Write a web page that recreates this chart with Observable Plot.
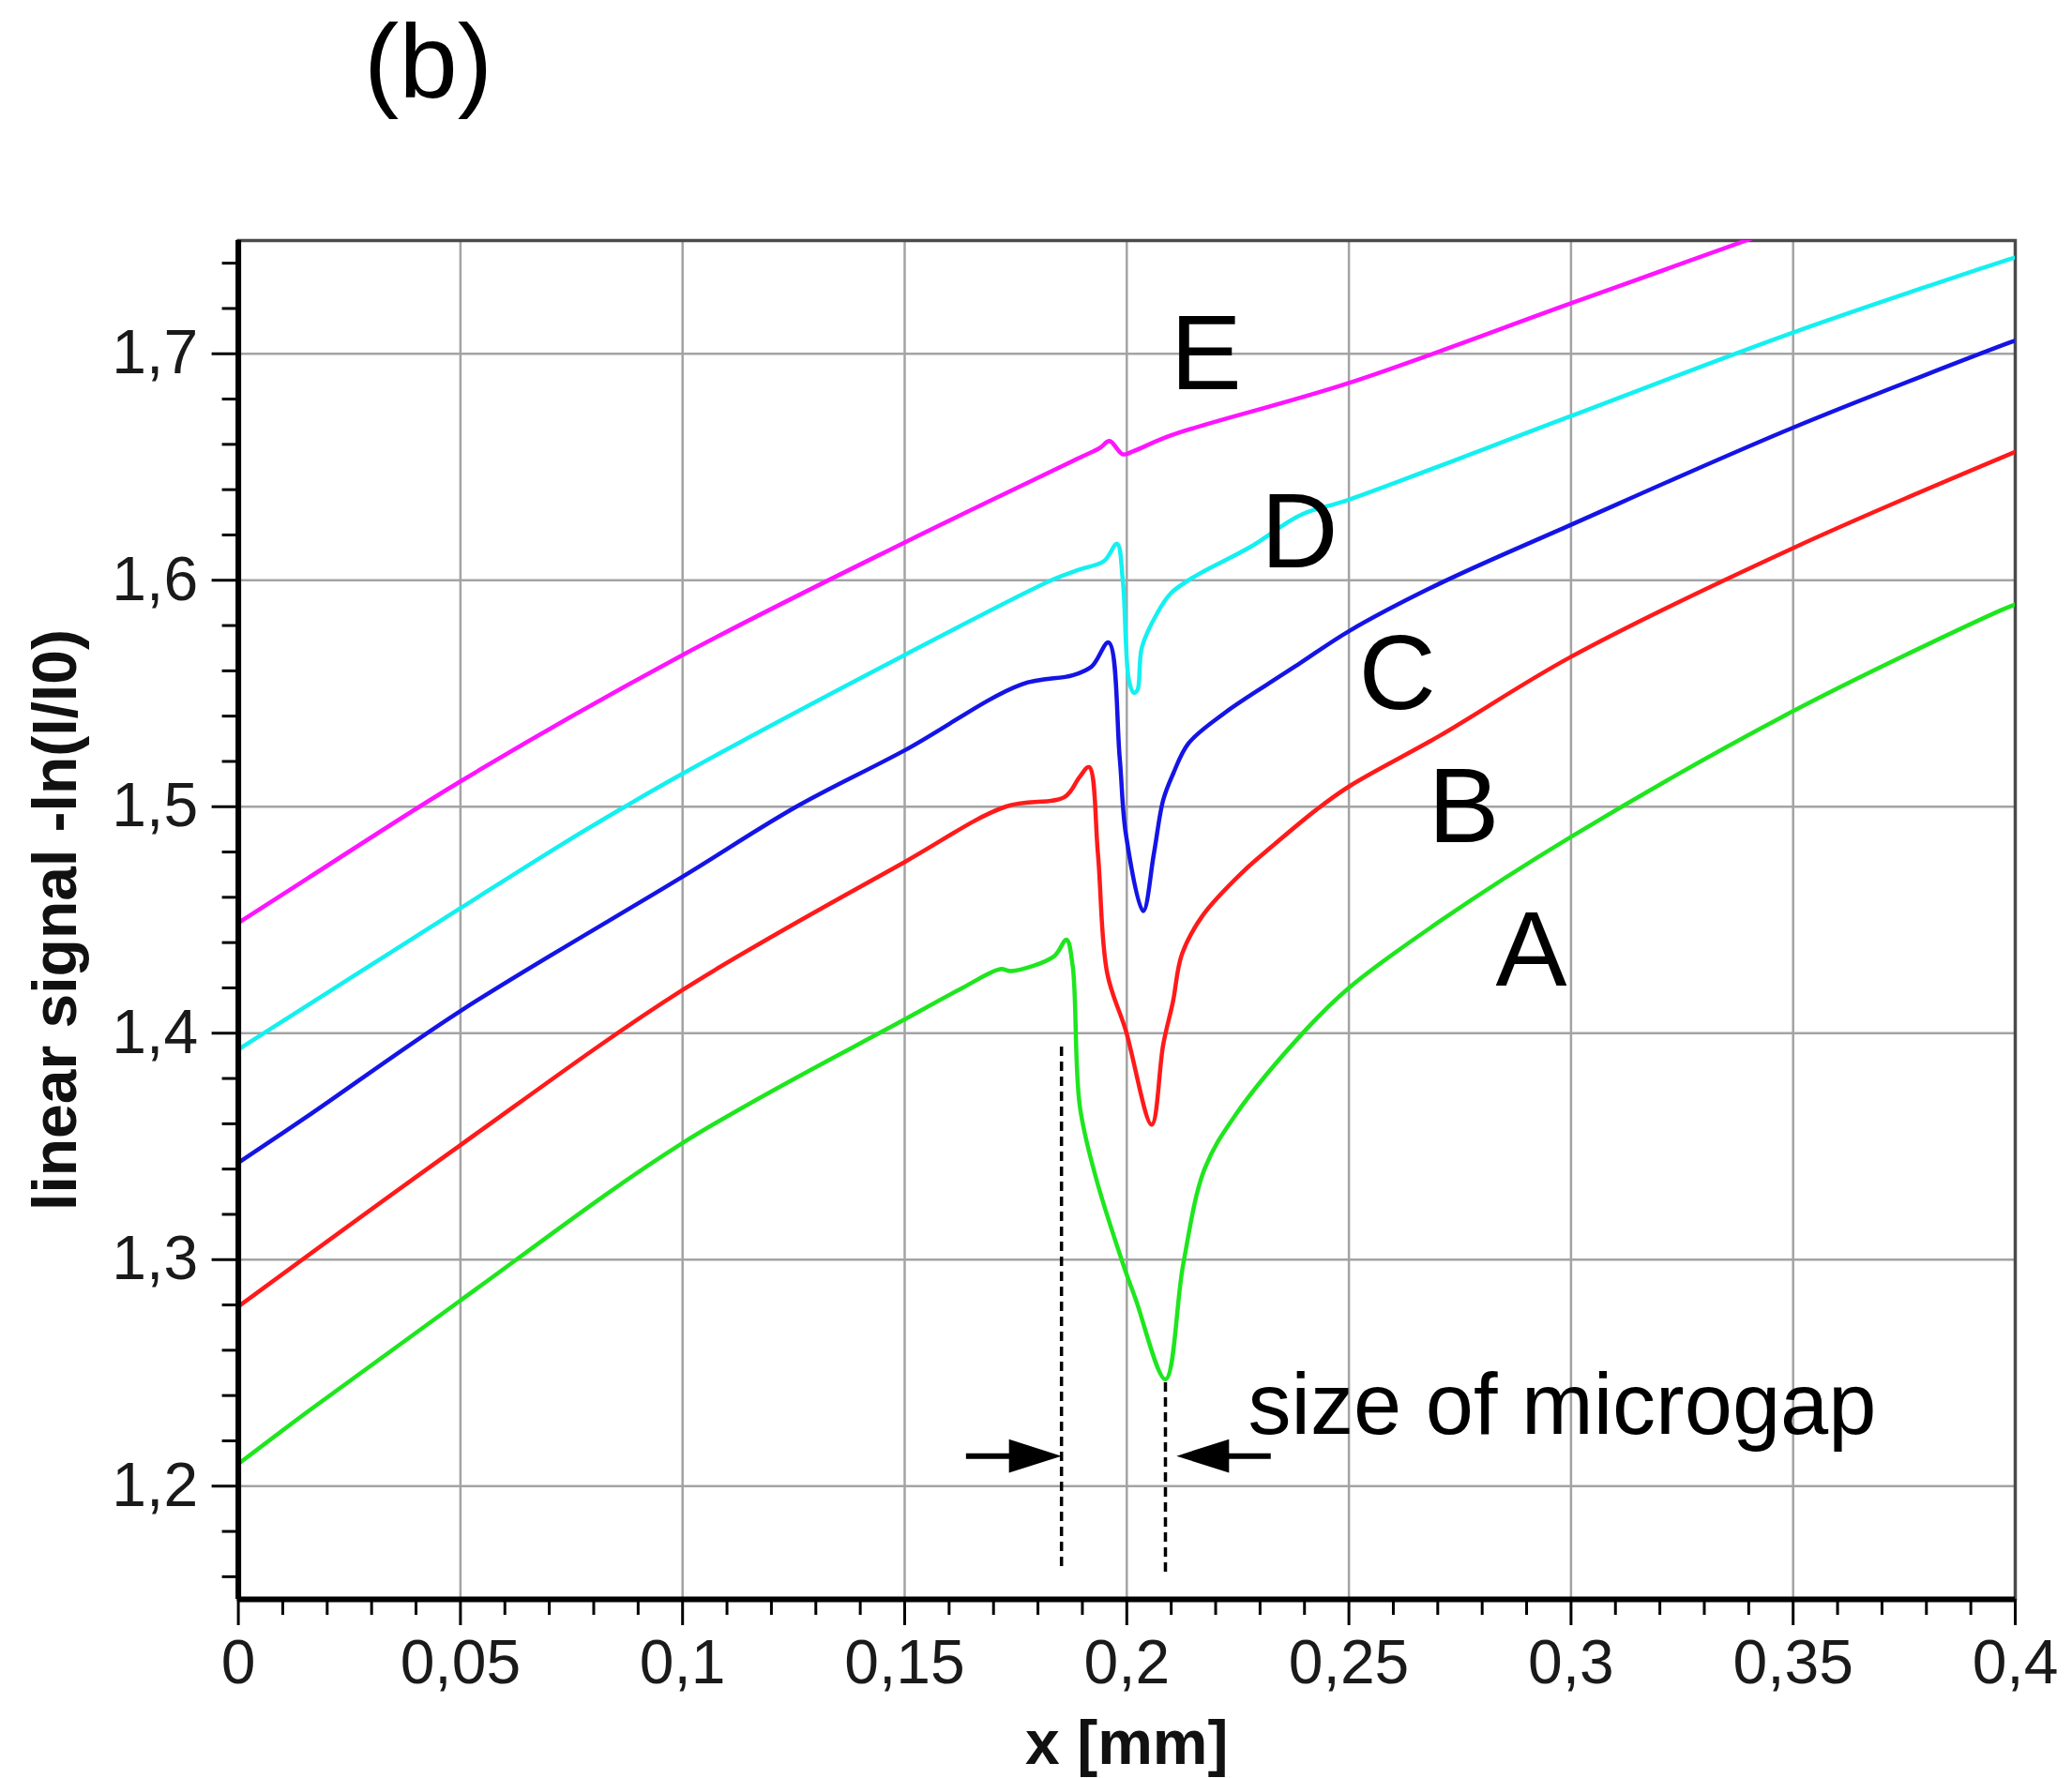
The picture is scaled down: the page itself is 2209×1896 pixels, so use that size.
<!DOCTYPE html>
<html>
<head>
<meta charset="utf-8">
<script src="https://cdn.jsdelivr.net/npm/d3@7"></script>
<script src="https://cdn.jsdelivr.net/npm/@observablehq/plot@0.6"></script>
<style>
  html, body { margin: 0; padding: 0; background: #ffffff; }
  svg { display: block; }
</style>
</head>
<body>
<div id="chart"></div>
<script>
// ---------- data ----------
const seriesNames = ["A", "B", "C", "D", "E"];
const seriesColors = ["#1ee61e", "#ff1a1a", "#1414e6", "#14f0f0", "#ff14ff"];

const xA = [0, 0.0157, 0.05, 0.1, 0.15, 0.163, 0.1715, 0.174, 0.1836, 0.1864, 0.1878, 0.1894, 0.1928, 0.199, 0.202, 0.2087, 0.2127, 0.2175, 0.2245, 0.2403, 0.25, 0.2706, 0.3, 0.35, 0.3967, 0.4];
const yA = [1.2098, 1.233, 1.282, 1.3515, 1.4061, 1.42, 1.4283, 1.4274, 1.4339, 1.4413, 1.43, 1.3681, 1.338, 1.299, 1.2825, 1.2472, 1.298, 1.34, 1.364, 1.4015, 1.42, 1.4496, 1.4867, 1.5422, 1.5867, 1.5893];

const xB = [0, 0.05, 0.1, 0.15, 0.1727, 0.186, 0.1893, 0.1915, 0.1935, 0.1956, 0.1998, 0.2056, 0.2082, 0.2104, 0.2124, 0.2171, 0.226, 0.233, 0.2427, 0.25, 0.2706, 0.3, 0.35, 0.4];
const yB = [1.2793, 1.3506, 1.4191, 1.4756, 1.5, 1.5043, 1.5129, 1.5175, 1.4793, 1.4264, 1.401, 1.3596, 1.395, 1.414, 1.4348, 1.452, 1.471, 1.483, 1.4987, 1.5089, 1.5315, 1.5662, 1.6142, 1.6567];

const xC = [0, 0.0157, 0.05, 0.1, 0.1256, 0.15, 0.1763, 0.1878, 0.1921, 0.1959, 0.1984, 0.1998, 0.2037, 0.2061, 0.2082, 0.2104, 0.2139, 0.2221, 0.232, 0.2391, 0.25, 0.2706, 0.3, 0.35, 0.3991, 0.4];
const yC = [1.3428, 1.3635, 1.4098, 1.4691, 1.5, 1.5249, 1.554, 1.558, 1.5619, 1.5725, 1.5217, 1.4878, 1.4539, 1.4793, 1.503, 1.5144, 1.528, 1.5415, 1.5545, 1.5635, 1.5775, 1.5987, 1.6245, 1.6674, 1.7052, 1.7058];

const xD = [0, 0.05, 0.0725, 0.087, 0.1, 0.15, 0.1836, 0.1893, 0.1949, 0.1978, 0.1991, 0.2005, 0.2016, 0.2024, 0.2034, 0.2068, 0.21, 0.2139, 0.2173, 0.2279, 0.2391, 0.25, 0.3, 0.35, 0.3991, 0.4];
const yD = [1.3928, 1.4552, 1.483, 1.5, 1.5146, 1.567, 1.6005, 1.6047, 1.6085, 1.6161, 1.60, 1.5556, 1.5503, 1.5515, 1.5704, 1.5853, 1.5944, 1.6, 1.6039, 1.6148, 1.6288, 1.6356, 1.6725, 1.7094, 1.742, 1.7425];

const xE = [0, 0.0157, 0.05, 0.1, 0.15, 0.1893, 0.194, 0.1961, 0.1991, 0.2015, 0.21, 0.25, 0.3, 0.3391, 0.342];
const yE = [1.4487, 1.4685, 1.5112, 1.567, 1.6167, 1.654, 1.6585, 1.6615, 1.6556, 1.657, 1.664, 1.6871, 1.7223, 1.7498, 1.752];

const seriesX = [xA, xB, xC, xD, xE];
const seriesY = [yA, yB, yC, yD, yE];

// tick values
const xMajorTicks = [0, 0.05, 0.1, 0.15, 0.2, 0.25, 0.3, 0.35, 0.4];
const xMinorTicks = [0.01, 0.02, 0.03, 0.04, 0.06, 0.07, 0.08, 0.09, 0.11, 0.12, 0.13, 0.14, 0.16, 0.17, 0.18, 0.19, 0.21, 0.22, 0.23, 0.24, 0.26, 0.27, 0.28, 0.29, 0.31, 0.32, 0.33, 0.34, 0.36, 0.37, 0.38, 0.39];
const yMajorTicks = [1.2, 1.3, 1.4, 1.5, 1.6, 1.7];
const yMinorTicks = [1.16, 1.18, 1.22, 1.24, 1.26, 1.28, 1.32, 1.34, 1.36, 1.38, 1.42, 1.44, 1.46, 1.48, 1.52, 1.54, 1.56, 1.58, 1.62, 1.64, 1.66, 1.68, 1.72, 1.74];
const xGridLines = [0.05, 0.1, 0.15, 0.2, 0.25, 0.3, 0.35];
const yGridLines = [1.2, 1.3, 1.4, 1.5, 1.6, 1.7];

// annotations
const curveLabels = ["A", "B", "C", "D", "E"];
const curveLabelX = [0.283, 0.2678, 0.2522, 0.2302, 0.2098];
const curveLabelY = [1.421, 1.4845, 1.543, 1.6059, 1.6842];

const gapLineX = [0.1853, 0.2087];
const gapLineTop = [1.394, 1.2472];
const gapLineBottom = [1.1645, 1.162];

const arrowY = 1.2133;
const arrowRightTail = 0.1638, arrowRightTip = 0.1853;
const arrowLeftTail = 0.2324, arrowLeftTip = 0.2112;

const gapText = "size of microgap";
const gapTextX = 0.2273, gapTextY = 1.223;

const panelTitle = "(b)";
const xLabel = "x [mm]";
const yLabel = "linear signal -ln(I/I0)";

// ---------- build tables ----------
const fmt = d => String(d).replace(".", ",");
const labelRows = curveLabels.map((t, i) => ({text: t, x: curveLabelX[i], y: curveLabelY[i]}));
const gapRows = gapLineX.map((x, i) => ({x, y1: gapLineBottom[i], y2: gapLineTop[i]}));
const headLen = 0.0105; // data units of the arrow head length
const shaftRows = [
  {x1: arrowRightTail, x2: arrowRightTip - headLen, y: arrowY},
  {x1: arrowLeftTail, x2: arrowLeftTip + headLen, y: arrowY}
];

const headRight = {draw(ctx, size) {
  const r = Math.sqrt(size / Math.PI), L = 2 * r, H = 0.64 * L;
  ctx.moveTo(0, 0); ctx.lineTo(-L, -H / 2); ctx.lineTo(-L, H / 2); ctx.closePath();
}};
const headLeft = {draw(ctx, size) {
  const r = Math.sqrt(size / Math.PI), L = 2 * r, H = 0.64 * L;
  ctx.moveTo(0, 0); ctx.lineTo(L, -H / 2); ctx.lineTo(L, H / 2); ctx.closePath();
}};

const lineMarks = seriesNames.map((name, i) => {
  const rows = seriesX[i].map((x, j) => ({series: name, x, y: seriesY[i][j]}));
  return Plot.line(rows, {x: "x", y: "y", stroke: seriesColors[i], strokeWidth: 4.5, curve: "catmull-rom", strokeLinejoin: "round", clip: true});
});

const plot = Plot.plot({
  width: 2209,
  height: 1896,
  marginLeft: 253.6,
  marginRight: 61,
  marginTop: 256,
  marginBottom: 191,
  x: {domain: [0, 0.4]},
  y: {domain: [1.15, 1.75]},
  style: {fontFamily: "'Liberation Sans', Arial, Helvetica, sans-serif", background: "#ffffff", color: "#111"},
  marks: [
    Plot.gridX(xGridLines, {stroke: "#a3a3a3", strokeOpacity: 1, strokeWidth: 2.5}),
    Plot.gridY(yGridLines, {stroke: "#a3a3a3", strokeOpacity: 1, strokeWidth: 2.5}),
    Plot.frame({stroke: "#4a4a4a", strokeWidth: 3.5}),
    ...lineMarks,
    Plot.ruleX(gapRows, {x: "x", y1: "y1", y2: "y2", stroke: "#000", strokeWidth: 3.5, strokeDasharray: "10,6"}),
    Plot.link(shaftRows, {x1: "x1", x2: "x2", y1: "y", y2: "y", stroke: "#000", strokeWidth: 6}),
    Plot.dot([arrowRightTip], {x: d => d, y: () => arrowY, symbol: headRight, r: 28, fill: "#000", stroke: "none"}),
    Plot.dot([arrowLeftTip], {x: d => d, y: () => arrowY, symbol: headLeft, r: 28, fill: "#000", stroke: "none"}),
    Plot.text(labelRows, {x: "x", y: "y", text: "text", fontSize: 114, textAnchor: "start", lineAnchor: "bottom", fill: "#000"}),
    Plot.text([gapText], {x: () => gapTextX, y: () => gapTextY, fontSize: 92, textAnchor: "start", lineAnchor: "bottom", fill: "#000"}),
    Plot.ruleX([0], {stroke: "#000", strokeWidth: 6}),
    Plot.ruleY([1.15], {stroke: "#000", strokeWidth: 6}),
    Plot.axisX(xMajorTicks, {anchor: "bottom", tickSize: 28, tickPadding: 15, tickFormat: fmt, fontSize: 66, stroke: "#000", strokeWidth: 3, fill: "#1a1a1a", label: null}),
    Plot.axisX(xMinorTicks, {anchor: "bottom", tickSize: 17, tickFormat: () => "", stroke: "#000", strokeWidth: 3, label: null}),
    Plot.axisY(yMajorTicks, {anchor: "left", tickSize: 28, tickPadding: 15, tickFormat: fmt, fontSize: 66, stroke: "#000", strokeWidth: 3, fill: "#1a1a1a", label: null}),
    Plot.axisY(yMinorTicks, {anchor: "left", tickSize: 17, tickFormat: () => "", stroke: "#000", strokeWidth: 3, label: null}),
    Plot.text([xLabel], {frameAnchor: "bottom", dy: 175, lineAnchor: "bottom", textAnchor: "middle", fontWeight: "bold", fontSize: 66, fill: "#111"}),
    Plot.text([yLabel], {frameAnchor: "left", dx: -173, rotate: -90, lineAnchor: "bottom", textAnchor: "middle", fontWeight: "bold", fontSize: 66, fill: "#111"}),
    Plot.text([panelTitle], {frameAnchor: "top-left", dx: 134, dy: -153, textAnchor: "start", lineAnchor: "bottom", fontSize: 112, fill: "#000"})
  ]
});

document.getElementById("chart").appendChild(plot);
</script>
</body>
</html>
